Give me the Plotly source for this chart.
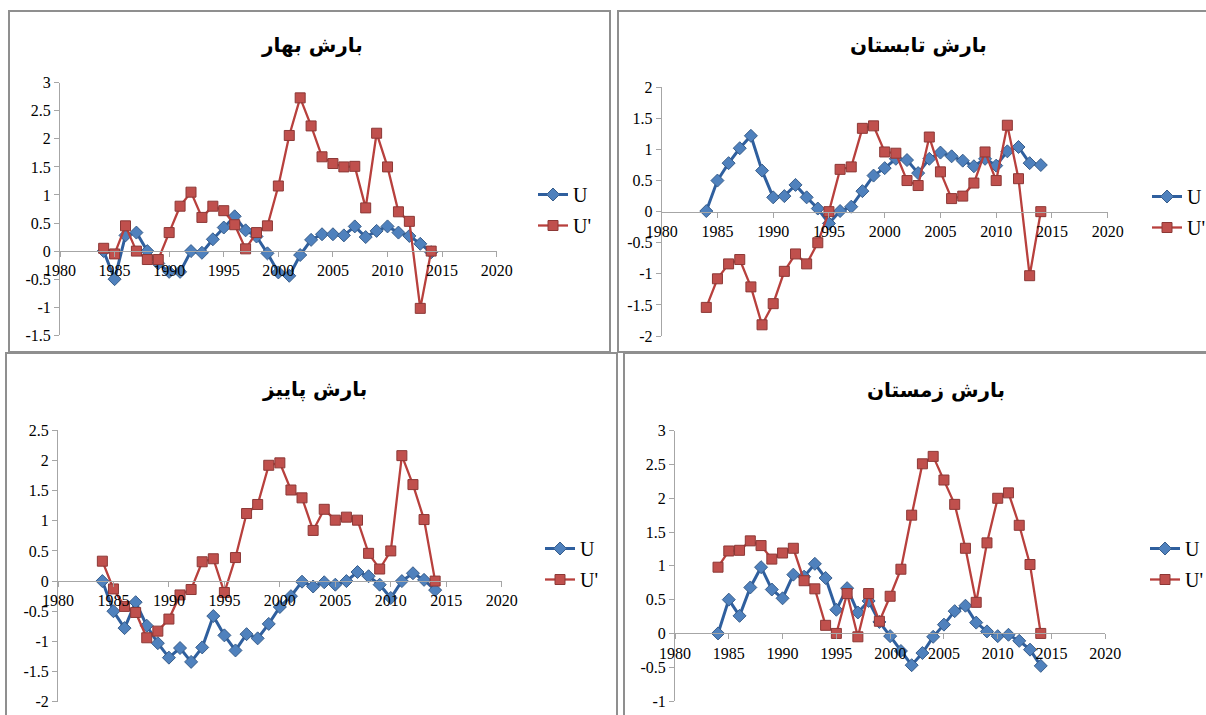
import plotly.graph_objects as go

years = list(range(1984, 2015))

# Spring (بارش بهار)
spring_u = [0.0, -0.5, 0.28, 0.33, 0.0, -0.22, -0.37, -0.37, 0.0, -0.03, 0.21, 0.42, 0.62, 0.37, 0.26,
            -0.04, -0.38, -0.44, -0.07, 0.2, 0.3, 0.3, 0.28, 0.44, 0.25, 0.36, 0.44, 0.33, 0.27, 0.13, -0.02]
spring_up = [0.05, -0.05, 0.45, 0.0, -0.15, -0.15, 0.33, 0.8, 1.05, 0.6, 0.8, 0.72, 0.47, 0.04, 0.33,
             0.45, 1.16, 2.06, 2.73, 2.23, 1.68, 1.56, 1.5, 1.51, 0.77, 2.1, 1.5, 0.7, 0.53, -1.02, 0.0]

# Summer (بارش تابستان)
summer_u = [0.01, 0.5, 0.78, 1.02, 1.22, 0.66, 0.23, 0.25, 0.43, 0.23, 0.05, -0.19, 0.01, 0.08, 0.33,
            0.58, 0.7, 0.85, 0.83, 0.62, 0.85, 0.95, 0.89, 0.82, 0.73, 0.85, 0.74, 0.97, 1.04, 0.78, 0.75]
summer_up = [-1.54, -1.08, -0.84, -0.77, -1.21, -1.82, -1.48, -0.96, -0.68, -0.84, -0.5, 0.0, 0.68, 0.72, 1.34,
             1.38, 0.96, 0.94, 0.5, 0.42, 1.2, 0.64, 0.21, 0.25, 0.46, 0.96, 0.5, 1.39, 0.53, -1.03, 0.0]

# Autumn (بارش پاییز)
autumn_u = [0.0, -0.5, -0.78, -0.35, -0.74, -1.03, -1.27, -1.11, -1.34, -1.1, -0.58, -0.9, -1.15, -0.88, -0.95,
            -0.71, -0.43, -0.25, -0.01, -0.09, -0.02, -0.06, 0.0, 0.15, 0.08, -0.06, -0.28, 0.0, 0.13, 0.02, -0.15]
autumn_up = [0.33, -0.13, -0.42, -0.52, -0.94, -0.83, -0.63, -0.23, -0.14, 0.32, 0.37, -0.19, 0.39, 1.12, 1.27,
             1.92, 1.96, 1.51, 1.38, 0.84, 1.19, 1.01, 1.06, 1.01, 0.46, 0.2, 0.5, 2.08, 1.6, 1.02, 0.0]

# Winter (بارش زمستان)
winter_u = [0.0, 0.5, 0.26, 0.68, 0.98, 0.65, 0.52, 0.87, 0.84, 1.03, 0.82, 0.35, 0.67, 0.31, 0.48,
            0.17, -0.04, -0.26, -0.47, -0.29, -0.05, 0.13, 0.33, 0.41, 0.16, 0.03, -0.04, -0.02, -0.11, -0.24, -0.48]
winter_up = [0.98, 1.22, 1.23, 1.37, 1.3, 1.1, 1.19, 1.26, 0.78, 0.66, 0.12, 0.0, 0.59, -0.05, 0.59,
             0.18, 0.55, 0.95, 1.75, 2.51, 2.62, 2.27, 1.91, 1.26, 0.46, 1.34, 2.0, 2.08, 1.6, 1.02, 0.0]

titles = ["بارش بهار", "بارش تابستان", "بارش پاییز", "بارش زمستان"]
series_names = ["U", "U'"]
x_ticks = [1980, 1985, 1990, 1995, 2000, 2005, 2010, 2015, 2020]

W, H = 1206, 715

def px(x):
    return x / W

def py(y):
    return 1 - y / H

# panel geometry in pixels: x of 1980, x of 2020, y of top value, y of bottom value, y-range
panels = [
    dict(u=spring_u, up=spring_up, x0=60, x1=496.7, ytop=82.7, ybot=335.3, yr=(-1.5, 3.0),
         title_xy=(312, 45), leg_xy=(533, 175), frame=(9, 11, 610, 352)),
    dict(u=summer_u, up=summer_up, x0=661.7, x1=1107.7, ytop=87.3, ybot=336.0, yr=(-2.0, 2.0),
         title_xy=(918, 45), leg_xy=(1147, 177), frame=(618, 11, 1230, 352)),
    dict(u=autumn_u, up=autumn_up, x0=58, x1=501.7, ytop=430.3, ybot=701.7, yr=(-2.0, 2.5),
         title_xy=(314, 390), leg_xy=(540, 529), frame=(6, 353, 617, 740)),
    dict(u=winter_u, up=winter_up, x0=675, x1=1105.3, ytop=430.7, ybot=701.0, yr=(-1.0, 3.0),
         title_xy=(936, 390), leg_xy=(1145, 529), frame=(624, 353, 1230, 740)),
]

blue_line = "#2F5F9E"
blue_fill = "#4F81BD"
blue_edge = "#385D8A"
red_line = "#B8403D"
red_fill = "#C0504D"
red_edge = "#8C3836"

serif = "Liberation Serif"
tick_font = dict(family=serif, size=16, color="#000000")
axis_col = "#A6A6A6"

def fmt(v):
    s = ("%.1f" % v).rstrip("0").rstrip(".")
    if s == "-0":
        s = "0"
    return s

fig = go.Figure()
shapes = []
annotations = []
layout = {}

for i, p in enumerate(panels):
    n = "" if i == 0 else str(i + 1)
    xa = "x" + n
    ya = "y" + n
    leg = "legend" + n
    fig.add_trace(go.Scatter(
        x=years, y=p["u"], name=series_names[0], mode="lines+markers",
        xaxis=xa, yaxis=ya, legend=leg, legendgroup="u" + n,
        line=dict(color=blue_line, width=3),
        marker=dict(symbol="diamond", size=10, color=blue_fill, line=dict(color=blue_edge, width=1)),
    ))
    fig.add_trace(go.Scatter(
        x=years, y=p["up"], name=series_names[1], mode="lines+markers",
        xaxis=xa, yaxis=ya, legend=leg, legendgroup="up" + n,
        line=dict(color=red_line, width=2.3),
        marker=dict(symbol="square", size=10, color=red_fill, line=dict(color=red_edge, width=1)),
    ))
    ymin, ymax = p["yr"]
    yvals = []
    v = ymin
    while v <= ymax + 1e-9:
        yvals.append(round(v, 2))
        v += 0.5
    zero_px = p["ytop"] + (p["ybot"] - p["ytop"]) * (ymax - 0) / (ymax - ymin)
    layout["xaxis" + n] = dict(
        domain=[px(p["x0"]), px(p["x1"])], range=[1980, 2020], anchor="free",
        position=py(zero_px), tickvals=x_ticks, ticktext=[str(t) for t in x_ticks],
        showline=True, linecolor=axis_col, linewidth=1, ticks="outside", ticklen=5,
        tickcolor=axis_col, showgrid=False, zeroline=False, tickfont=tick_font,
        fixedrange=True, automargin=False,
    )
    layout["yaxis" + n] = dict(
        domain=[py(p["ybot"]), py(p["ytop"])], range=[ymin, ymax], anchor=xa,
        tickvals=yvals, ticktext=[fmt(t) for t in yvals],
        showline=True, linecolor=axis_col, linewidth=1, ticks="outside", ticklen=5,
        tickcolor=axis_col, showgrid=False, zeroline=False, tickfont=tick_font,
        fixedrange=True, automargin=False,
    )
    layout[leg] = dict(
        x=px(p["leg_xy"][0]), y=py(p["leg_xy"][1]), xanchor="left", yanchor="top",
        bgcolor="rgba(0,0,0,0)", borderwidth=0,
        font=dict(family=serif, size=20, color="#000000"),
        tracegroupgap=2, itemwidth=30, traceorder="grouped",
    )
    fx0, fy0, fx1, fy1 = p["frame"]
    shapes.append(dict(type="rect", xref="paper", yref="paper",
                       x0=px(fx0), x1=px(fx1), y0=py(fy1), y1=py(fy0),
                       line=dict(color="#8F8F8F", width=2), layer="below"))
    annotations.append(dict(
        text="<b>" + titles[i] + "</b>", xref="paper", yref="paper",
        x=px(p["title_xy"][0]), y=py(p["title_xy"][1]), xanchor="center", yanchor="middle",
        showarrow=False,
        font=dict(family="DejaVu Sans, Liberation Sans, sans-serif", size=20, color="#000000"),
    ))

fig.update_layout(
    width=W, height=H, margin=dict(l=0, r=0, t=0, b=0, pad=0, autoexpand=False),
    paper_bgcolor="white", plot_bgcolor="rgba(0,0,0,0)",
    showlegend=True, shapes=shapes, annotations=annotations,
    **layout,
)

fig.write_html(
    "out.html",
    config={"displayModeBar": False},
    post_script="document.body.style.margin='0';document.body.style.padding='0';"
                "document.body.style.overflow='hidden';document.documentElement.style.overflow='hidden';",
)
